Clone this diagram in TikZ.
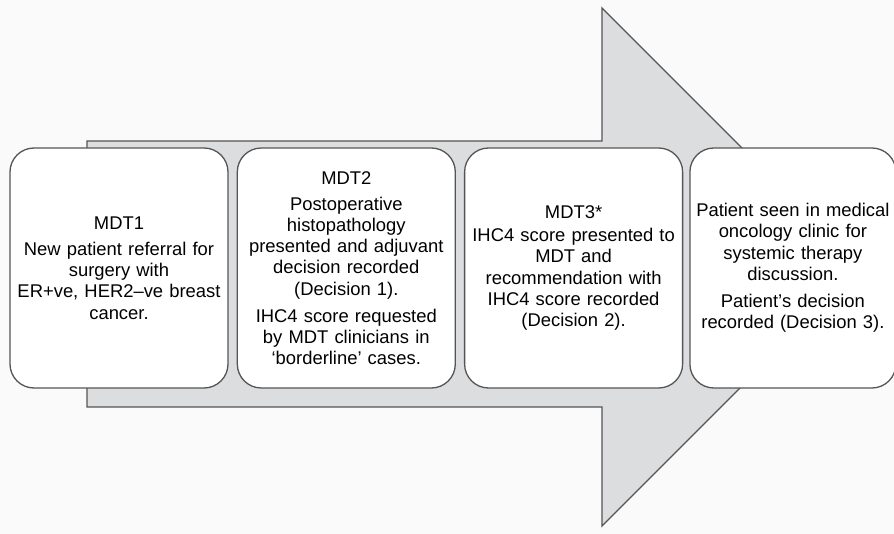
\documentclass[tikz,border=0pt]{standalone}
\usepackage{fontspec}
\setmainfont{Liberation Sans}
\usetikzlibrary{positioning}
\definecolor{arrowgray}{HTML}{DCDDDF}
\definecolor{linegray}{HTML}{555555}
\tikzset{
    stage/.style={
        draw=linegray, line width=1.3pt, fill=white,
        rounded corners=24pt, minimum height=240pt,
        minimum width=218pt, text width=204pt, align=center,
        inner sep=0pt, text=black,
        font=\fontsize{18.4}{21.2}\selectfont
    }
}

\begin{document}
\begin{tikzpicture}[x=1pt, y=-1pt]

  \useasboundingbox[fill=black!2] (0,0) rectangle (894,534);

  % big arrow behind the stages
  \draw[draw=linegray, line width=1.3pt, fill=arrowgray, line join=miter]
    (87,141) -- (602,141) -- (602,8) -- (861,267) -- (602,526)
    -- (602,407) -- (87,407) -- cycle;

  \node[stage] (mdt1) at (119,268)
    {MDT1\\[5pt]
     New patient referral for\\ surgery with\\
     ER+ve, HER2--ve breast\\ cancer.};
  \node[stage, right=8pt of mdt1] (mdt2)
    {MDT2\\[5pt]
     Postoperative\\ histopathology\\ presented and adjuvant\\
     decision recorded\\ (Decision 1).\\[6pt]
     IHC4 score requested\\ by MDT clinicians in\\
     ‘borderline’ cases.};
  \node[stage, right=8pt of mdt2] (mdt3)
    {MDT3*\\[2pt]
     IHC4 score presented to\\ MDT and\\
     recommendation with\\ IHC4 score recorded\\ (Decision 2).};
  \node[stage, right=6pt of mdt3, minimum width=206pt, text width=200pt] (clinic)
    {Patient seen in medical\\ oncology clinic for\\
     systemic therapy\\ discussion.\\[6pt]
     Patient’s decision\\ recorded (Decision 3).};

\end{tikzpicture}
\end{document}
